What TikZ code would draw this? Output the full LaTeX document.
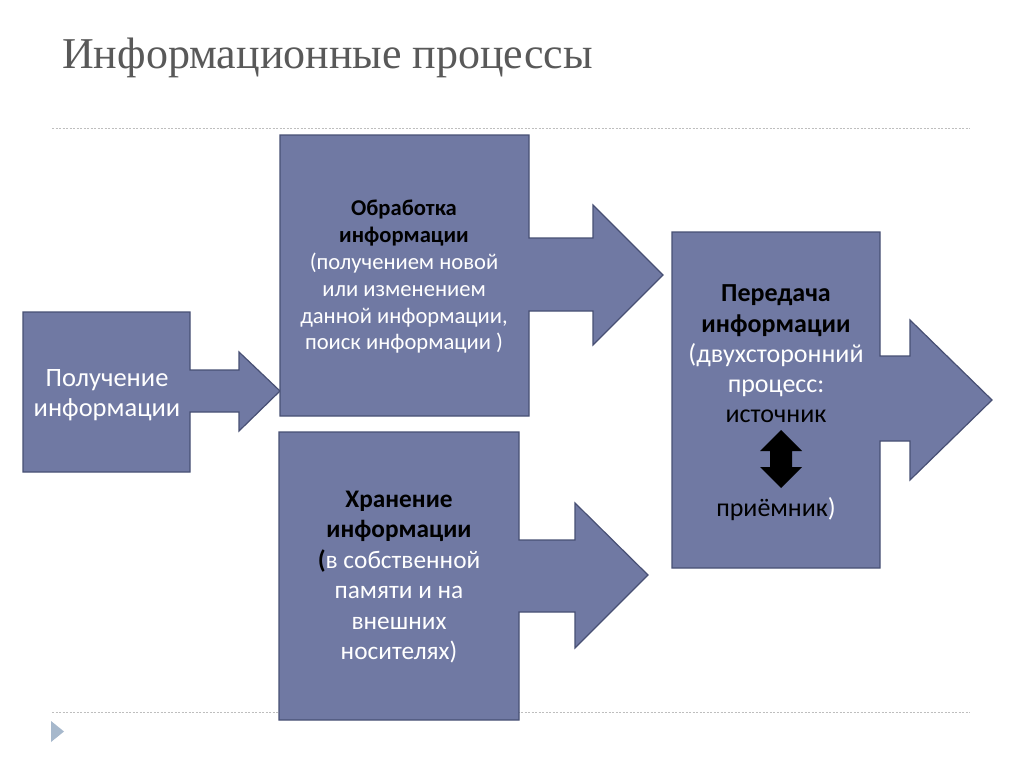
\documentclass[tikz,border=0pt]{standalone}
\usepackage{fontspec}
\setmainfont{Carlito}
\newfontfamily\titlefont{Liberation Serif}
\usetikzlibrary{positioning}
\definecolor{boxfill}{RGB}{112,121,163}
\definecolor{boxline}{RGB}{72,80,116}
\definecolor{titlegray}{RGB}{89,89,89}
\definecolor{ruleline}{RGB}{190,190,190}
\definecolor{marker}{RGB}{166,184,204}
\newcommand{\darkbold}[1]{\textcolor{black}{\bfseries #1}}
\newcommand{\darkpart}[1]{\textcolor{black}{#1}}

\tikzset{
  procshape/.style={fill=boxfill, draw=boxline, line width=1.2pt, line join=miter},
  proctext/.style={align=center, text=white, inner sep=0pt},
  sepline/.style={draw=ruleline, line width=0.8pt, dash pattern=on 2pt off 1.5pt}
}

\begin{document}
\begin{tikzpicture}[x=1pt,y=-1pt]
\useasboundingbox[fill=white] (0,0) rectangle (1024,768);
\node[anchor=base west, text=titlegray, inner sep=0pt,
  font=\titlefont\fontsize{44}{50}\selectfont] (title) at (62,68) {Информационные процессы};
\coordinate (topL) at (52,128);
\coordinate (topR) at (970,128);
\coordinate (botL) at (52,712);
\coordinate (botR) at (970,712);
\draw[sepline] (topL) -- (topR);
\draw[sepline] (botL) -- (botR);
\fill[marker] (51,721) -- (64,731.5) -- (51,742) -- cycle;

% box shapes with their arrows
\draw[procshape] (23,312) -- (190,312) -- (190,370) -- (239,370) -- (239,352) -- (280,391)
  -- (239,431) -- (239,412) -- (190,412) -- (190,472) -- (23,472) -- cycle;
\draw[procshape] (280,135) -- (529,135) -- (529,238) -- (593,238) -- (593,205) -- (663,275)
  -- (593,345) -- (593,311) -- (529,311) -- (529,416) -- (280,416) -- cycle;
\draw[procshape] (279,432) -- (519,432) -- (519,540) -- (575,540) -- (575,503) -- (648,575)
  -- (575,648) -- (575,612) -- (519,612) -- (519,720) -- (279,720) -- cycle;
\draw[procshape] (672,232) -- (880,232) -- (880,356) -- (910,356) -- (910,320) -- (992,400)
  -- (910,480) -- (910,441) -- (880,441) -- (880,568) -- (672,568) -- cycle;

\node[proctext, font=\fontsize{26.5}{30}\selectfont] (get) at (107,395) {Получение\\информации};
\node[proctext, font=\fontsize{22.6}{26.8}\selectfont] (proc) at (404,277)
  {\darkbold{Обработка}\\\darkbold{информации}\\(получением новой\\или изменением\\данной информации,\\поиск информации )};
\node[proctext, font=\fontsize{25.3}{30.5}\selectfont] (store) at (399,577)
  {\darkbold{Хранение}\\\darkbold{информации}\\\darkbold{(}в собственной\\памяти и на\\внешних\\носителях)};
\node[proctext, font=\fontsize{26}{30.3}\selectfont] (send) at (776,354)
  {\darkbold{Передача}\\\darkbold{информации}\\(двухсторонний\\процесс:\\\darkpart{источник}};
\fill[black] (781,430) -- (802,451) -- (792,451) -- (792,467) -- (802,467) -- (781,488)
  -- (760,467) -- (770,467) -- (770,451) -- (760,451) -- cycle;
\node[proctext, font=\fontsize{26}{30.3}\selectfont] (recv) at (776,509) {\darkpart{приёмник})};
\end{tikzpicture}
\end{document}
